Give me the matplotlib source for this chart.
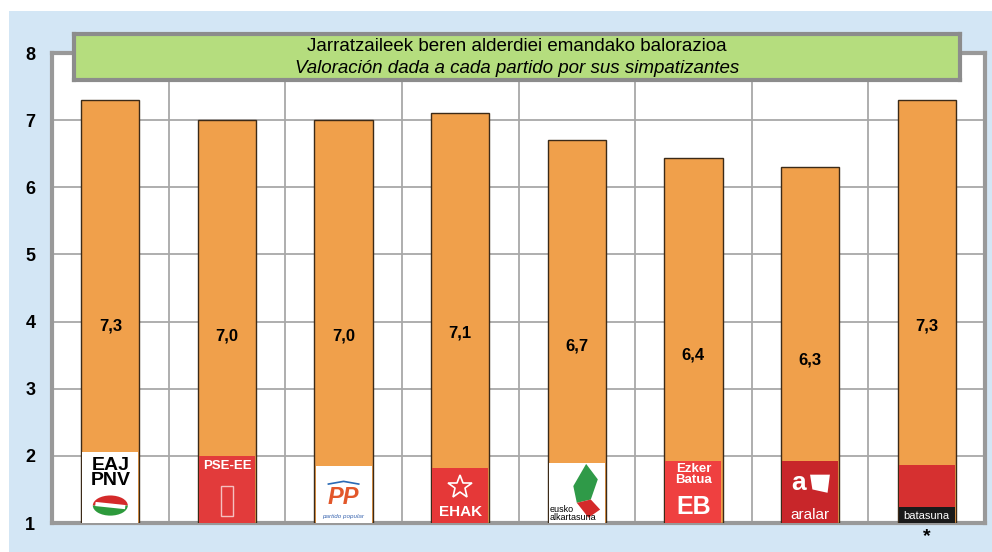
import numpy as np
import matplotlib.pyplot as plt
from matplotlib.patches import Rectangle, Wedge, Polygon

plt.rcParams['font.family'] = ['Liberation Sans', 'DejaVu Sans']

# datos
parties = ['EAJ-PNV', 'PSE-EE', 'PP', 'EHAK', 'EA', 'EB', 'Aralar', 'Batasuna']
scores = [7.3, 7.0, 7.0, 7.1, 6.7, 6.43, 6.3, 7.3]
score_labels = ['7,3', '7,0', '7,0', '7,1', '6,7', '6,4', '6,3', '7,3']
logo_tops = [2.06, 2.0, 1.85, 1.82, 1.9, 1.93, 1.93, 1.87]
logo_bg = ['white', '#e23b3b', 'white', '#e53838', 'white', '#ef4040', '#c8262a', '#d63030']

title_eu = 'Jarratzaileek beren alderdiei emandako balorazioa'
title_es = 'Valoración dada a cada partido por sus simpatizantes'

fig = plt.figure(figsize=(9.92, 5.52), dpi=100)
fig.patch.set_facecolor('white')
# panel azul de fondo
fig.patches.append(Rectangle((9 / 992, 0), 1, 1 - 11 / 552, transform=fig.transFigure,
                             facecolor='#d3e6f5', edgecolor='none', zorder=-5))

ax = fig.add_axes([52 / 992, 29 / 552, 933 / 992, 470 / 552])
ax.set_facecolor('white')
x = np.arange(len(parties))
w = 0.5
ax.bar(x, [s - 1 for s in scores], bottom=1, width=w, color='#f0a04b',
       edgecolor='#3b2a18', linewidth=1, zorder=3)

for xi, s, lab in zip(x, scores, score_labels):
    ax.text(xi, (1 + s) / 2 - 0.22, lab, ha='center', va='center',
            fontsize=12, fontweight='bold', zorder=6)

# logos (aproximados)
for xi, top, bg in zip(x, logo_tops, logo_bg):
    ax.add_patch(Rectangle((xi - w / 2 + 0.01, 1), w - 0.02, top - 1,
                           facecolor=bg, edgecolor='none', zorder=4))

# EAJ-PNV
ax.text(0, 1.74, 'EAJ\nPNV', ha='center', va='center', fontsize=14,
        fontweight='bold', linespacing=0.85, color='black', zorder=5)
ax.add_patch(Wedge((0, 1.26), 0.15, 0, 180, facecolor='#d42a2a', zorder=5))
ax.add_patch(Wedge((0, 1.26), 0.15, 180, 360, facecolor='#2d9a3c', zorder=5))
ax.plot([-0.11, 0.11], [1.28, 1.24], color='white', lw=3, zorder=6)

# PSE-EE
ax.text(1, 1.85, 'PSE-EE', ha='center', va='center', fontsize=9.5,
        fontweight='bold', color='white', zorder=5)
ax.add_patch(Rectangle((0.95, 1.1), 0.1, 0.45, facecolor='none',
                       edgecolor='#f5c0c0', lw=1, zorder=5))

# PP
ax.text(2, 1.38, 'PP', ha='center', va='center', fontsize=17, fontweight='bold',
        style='italic', color='#e2572a', zorder=5)
ax.text(2, 1.1, 'partido popular', ha='center', va='center', fontsize=4.5,
        style='italic', color='#3a66b0', zorder=5)
ax.plot([1.87, 2.0, 2.13], [1.58, 1.62, 1.58], color='#2a6ab5', lw=1.2, zorder=5)

# EHAK
ax.plot(3, 1.53, marker='*', markersize=18, markerfacecolor='none',
        markeredgecolor='white', markeredgewidth=1.2, zorder=5)
ax.text(3, 1.17, 'EHAK', ha='center', va='center', fontsize=11,
        fontweight='bold', color='white', zorder=5)

# EA
ax.add_patch(Polygon([[4.08, 1.88], [4.18, 1.65], [4.12, 1.35], [4.0, 1.3], [3.97, 1.55]],
                     facecolor='#2f9a48', zorder=5))
ax.add_patch(Polygon([[4.0, 1.3], [4.12, 1.35], [4.2, 1.2], [4.1, 1.08]],
                     facecolor='#d42a2a', zorder=5))
ax.text(3.77, 1.14, 'eusko\nalkartasuna', ha='left', va='center', fontsize=6.5,
        linespacing=0.9, color='black', zorder=6)

# EB
ax.text(5, 1.72, 'Ezker\nBatua', ha='center', va='center', fontsize=9.5,
        fontweight='bold', linespacing=0.85, color='white', zorder=5)
ax.text(5, 1.24, 'EB', ha='center', va='center', fontsize=18,
        fontweight='bold', color='white', zorder=5)

# Aralar
ax.text(5.9, 1.6, 'a', ha='center', va='center', fontsize=19, fontweight='bold',
        color='white', zorder=5)
ax.add_patch(Polygon([[6.0, 1.72], [6.17, 1.72], [6.15, 1.45], [6.02, 1.5]],
                     facecolor='white', zorder=5))
ax.text(6, 1.12, 'aralar', ha='center', va='center', fontsize=11,
        color='white', zorder=5)

# Batasuna
ax.add_patch(Rectangle((7 - w / 2 + 0.01, 1), w - 0.02, 0.24,
                       facecolor='#1a1a1a', edgecolor='none', zorder=5))
ax.text(7, 1.11, 'batasuna', ha='center', va='center', fontsize=8,
        color='white', zorder=6)
ax.text(7, 0.8, '*', ha='center', va='center', fontsize=14, fontweight='bold',
        clip_on=False)

ax.set_xlim(-0.5, len(parties) - 0.5)
ax.set_ylim(1, 8)
ax.set_yticks(range(1, 9))
ax.set_yticklabels([str(i) for i in range(1, 9)], fontsize=13, fontweight='bold')
ax.set_xticks(np.arange(0.5, len(parties) - 0.5, 1))
ax.set_xticklabels([])
ax.tick_params(length=0, pad=12)
ax.grid(True, color='#a8a8a8', linewidth=1.3, zorder=1)
ax.set_axisbelow(True)
for side in ['left', 'right', 'top', 'bottom']:
    ax.spines[side].set_color('#999999')
    ax.spines[side].set_linewidth(3)

# caja del título
tb = fig.add_axes([74 / 992, 1 - 80 / 552, 886 / 992, 46 / 552])
tb.set_facecolor('#b5dd7e')
tb.set_xticks([])
tb.set_yticks([])
for side in tb.spines.values():
    side.set_color('#8c8c8c')
    side.set_linewidth(3)
tb.text(0.5, 0.72, title_eu, ha='center', va='center', fontsize=13.5,
        transform=tb.transAxes)
tb.text(0.5, 0.26, title_es, ha='center', va='center', fontsize=13.5,
        style='italic', transform=tb.transAxes)

fig.savefig('out.png', dpi=100)
